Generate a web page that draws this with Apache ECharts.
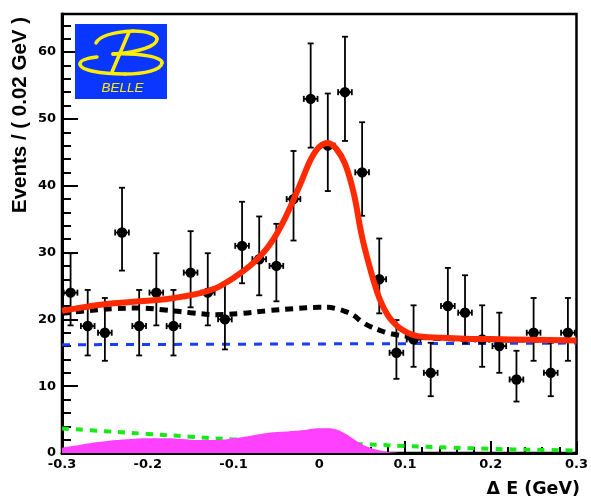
<!DOCTYPE html>
<html>
<head>
<meta charset="utf-8">
<script src="https://cdn.jsdelivr.net/npm/echarts@6/dist/echarts.min.js"></script>
<style>
  html, body { margin: 0; padding: 0; background: #ffffff; }
  #chart { width: 591px; height: 500px; }
</style>
</head>
<body>
<div id="chart"></div>
<script>
// ΔE distribution: data points with Poisson-style error bars and the fit components.

// Bin centres (GeV) and event counts
const binCenters = [-0.29, -0.27, -0.25, -0.23, -0.21, -0.19, -0.17, -0.15, -0.13, -0.11,
                    -0.09, -0.07, -0.05, -0.03, -0.01, 0.01, 0.03, 0.05, 0.07, 0.09,
                    0.11, 0.13, 0.15, 0.17, 0.19, 0.21, 0.23, 0.25, 0.27, 0.29];
const counts = [24, 19, 18, 33, 19, 24, 19, 27, 24, 20,
                31, 29, 28, 38, 53, 46, 54, 42, 26, 15,
                17, 12, 22, 21, 17, 16, 11, 18, 12, 18];
// Error bar ends (lower / upper)
const errLow = [19.1, 14.6, 13.8, 27.3, 14.6, 19.1, 14.6, 21.8, 19.1, 15.5,
                25.4, 23.6, 22.7, 31.8, 45.7, 39.2, 46.7, 35.5, 20.9, 11.1,
                12.9, 8.5, 17.3, 16.4, 12.9, 12.0, 7.7, 13.8, 8.5, 13.8];
const errHigh = [29.9, 24.4, 23.2, 39.7, 24.4, 29.9, 24.4, 33.2, 29.9, 25.5,
                 37.6, 35.4, 34.3, 45.2, 61.3, 53.8, 62.3, 49.5, 32.1, 19.9,
                 22.1, 16.5, 27.7, 26.6, 22.1, 21.0, 15.3, 23.2, 16.5, 23.2];
const binHalfWidth = 0.008;

// Total fit (red)
const fitX = [-0.30, -0.28, -0.26, -0.24, -0.22, -0.20, -0.18, -0.16, -0.14, -0.12,
              -0.11, -0.10, -0.09, -0.08, -0.07, -0.06, -0.05, -0.04, -0.03, -0.02,
              -0.01, 0.00, 0.01, 0.02, 0.03, 0.04, 0.05, 0.06, 0.07, 0.08,
              0.09, 0.10, 0.11, 0.12, 0.14, 0.17, 0.20, 0.25, 0.30];
const fitY = [21.3, 21.7, 22.1, 22.4, 22.6, 22.8, 23.0, 23.4, 23.9, 24.7,
              25.4, 26.2, 27.1, 28.1, 29.3, 30.8, 32.7, 35.1, 37.9, 40.9,
              43.9, 45.8, 46.4, 45.5, 43.3, 39.0, 32.3, 27.3, 23.2, 20.6,
              19.1, 18.2, 17.65, 17.4, 17.25, 17.1, 17.05, 16.95, 16.85];

// Total background (black dashed)
const bkgX = [-0.30, -0.27, -0.24, -0.21, -0.18, -0.15, -0.12, -0.09, -0.06, -0.03,
              0.00, 0.01, 0.02, 0.03, 0.04, 0.05, 0.06, 0.07, 0.08, 0.09,
              0.10, 0.12, 0.15, 0.20, 0.25, 0.30];
const bkgY = [20.9, 21.3, 21.6, 21.7, 21.4, 21.0, 20.7, 20.9, 21.3, 21.6,
              21.8, 21.8, 21.6, 21.2, 20.6, 19.6, 18.9, 18.4, 17.95, 17.7,
              17.5, 17.3, 17.1, 16.95, 16.9, 16.85];

// Continuum component (blue dashed)
const contX = [-0.30, 0.30];
const contY = [16.2, 16.45];

// Second background component (green dashed)
const bbX = [-0.30, -0.25, -0.20, -0.15, -0.10, -0.05, 0.00, 0.05, 0.10, 0.15, 0.20, 0.25, 0.30];
const bbY = [3.67, 3.26, 2.85, 2.44, 2.03, 1.78, 1.55, 1.32, 1.05, 0.83, 0.62, 0.48, 0.38];

// Peaking component (magenta filled)
const peakX = [-0.30, -0.28, -0.26, -0.24, -0.22, -0.20, -0.18, -0.16, -0.14, -0.12,
               -0.10, -0.08, -0.06, -0.04, -0.02, 0.00, 0.01, 0.02, 0.03, 0.04,
               0.05, 0.06, 0.07, 0.08, 0.09, 0.10, 0.20, 0.30];
const peakY = [0.8, 1.2, 1.6, 1.9, 2.1, 2.2, 2.2, 2.1, 1.95, 1.95,
               2.2, 2.6, 3.0, 3.2, 3.4, 3.7, 3.7, 3.5, 2.9, 2.1,
               1.3, 0.75, 0.4, 0.15, 0.05, 0, 0, 0];

// Axis ticks
const yMajorTicks = [0, 10, 20, 30, 40, 50, 60];
const yMinorTicks = [2, 4, 6, 8, 12, 14, 16, 18, 22, 24, 26, 28, 32, 34, 36, 38,
                     42, 44, 46, 48, 52, 54, 56, 58, 62, 64];
const yMax = 65.7;

const pairs = (xs, ys) => xs.map((x, i) => [x, ys[i]]);
const points = binCenters.map((x, i) => [x, counts[i], errLow[i], errHigh[i]]);

const chart = echarts.init(document.getElementById('chart'), null, { renderer: 'canvas' });

const labelFont = { fontFamily: 'DejaVu Sans', fontWeight: 'bold', fontSize: 13, color: '#000' };

function renderPoint(params, api) {
  const x = api.value(0), y = api.value(1), lo = api.value(2), hi = api.value(3);
  const c = api.coord([x, y]);
  const pLo = api.coord([x, lo]);
  const pHi = api.coord([x, hi]);
  const pL = api.coord([x - binHalfWidth, y]);
  const pR = api.coord([x + binHalfWidth, y]);
  const st = { stroke: '#000', lineWidth: 1.8 };
  const cap = 3;
  return {
    type: 'group',
    children: [
      { type: 'line', shape: { x1: c[0], y1: pLo[1], x2: c[0], y2: pHi[1] }, style: st },
      { type: 'line', shape: { x1: c[0] - cap, y1: pLo[1], x2: c[0] + cap, y2: pLo[1] }, style: st },
      { type: 'line', shape: { x1: c[0] - cap, y1: pHi[1], x2: c[0] + cap, y2: pHi[1] }, style: st },
      { type: 'line', shape: { x1: pL[0], y1: c[1], x2: pR[0], y2: c[1] }, style: st },
      { type: 'line', shape: { x1: pL[0], y1: c[1] - cap, x2: pL[0], y2: c[1] + cap }, style: st },
      { type: 'line', shape: { x1: pR[0], y1: c[1] - cap, x2: pR[0], y2: c[1] + cap }, style: st },
      { type: 'circle', shape: { cx: c[0], cy: c[1], r: 5.2 }, style: { fill: '#000' } }
    ]
  };
}

// Stylised "B" of the experiment logo, drawn as cubic strokes
const logoStroke = { fill: null, stroke: '#ffee00', lineWidth: 3.5, lineCap: 'round' };
const logoCurves = [
  [96, 43, 100, 35, 115, 32, 133, 31],
  [133, 31, 148, 31, 157, 35, 157, 39],
  [157, 39, 157, 46, 140, 52, 113, 54],
  [113, 54, 140, 53, 163, 57, 162, 63],
  [162, 63, 161, 70, 145, 74, 125, 74],
  [125, 74, 100, 74, 80, 70, 80, 64],
  [80, 64, 80, 60, 88, 58, 97, 57]
].map(s => ({
  type: 'bezierCurve', z: 21,
  shape: { x1: s[0], y1: s[1], cpx1: s[2], cpy1: s[3], cpx2: s[4], cpy2: s[5], x2: s[6], y2: s[7] },
  style: logoStroke
}));

const option = {
  animation: false,
  backgroundColor: '#ffffff',
  grid: {
    left: 62, right: 9, top: 14, bottom: 47,
    show: true, borderColor: '#000', borderWidth: 2.5, backgroundColor: '#ffffff'
  },
  xAxis: {
    type: 'value', min: -0.3, max: 0.3, interval: 0.1,
    axisLine: { show: true, onZero: false, lineStyle: { color: '#000', width: 3 } },
    axisTick: { show: true, inside: true, length: 12, lineStyle: { color: '#000', width: 2 } },
    minorTick: { show: true, splitNumber: 5, length: 6, lineStyle: { color: '#000', width: 2 } },
    splitLine: { show: false },
    axisLabel: Object.assign({ margin: 5, formatter: v => String(+v.toFixed(2)) }, labelFont)
  },
  yAxis: [
    {
      type: 'value', min: 0, max: yMax,
      axisLine: { show: true, onZero: false, lineStyle: { color: '#000', width: 3 } },
      axisTick: { show: true, inside: true, length: 16, customValues: yMajorTicks,
                  lineStyle: { color: '#000', width: 2 } },
      axisLabel: Object.assign({ margin: 6, customValues: yMajorTicks }, labelFont),
      splitLine: { show: false }
    },
    {
      type: 'value', min: 0, max: yMax, position: 'left',
      axisLine: { show: false, onZero: false },
      axisTick: { show: true, inside: true, length: 9, customValues: yMinorTicks,
                  lineStyle: { color: '#000', width: 2 } },
      axisLabel: { show: false },
      splitLine: { show: false }
    }
  ],
  series: [
    {
      name: 'peaking', type: 'line', data: pairs(peakX, peakY), smooth: 0.4,
      showSymbol: false, lineStyle: { width: 0 }, itemStyle: { color: '#ff40ff' },
      areaStyle: { color: '#ff40ff', opacity: 1 }, z: 1, silent: true
    },
    {
      name: 'bb', type: 'line', data: pairs(bbX, bbY), smooth: 0.4, showSymbol: false,
      lineStyle: { color: '#18e818', width: 4, type: [7, 7] }, z: 0, silent: true
    },
    {
      name: 'continuum', type: 'line', data: pairs(contX, contY), showSymbol: false,
      lineStyle: { color: '#1a3cff', width: 3, type: [8, 8] }, z: 2, silent: true
    },
    {
      name: 'background', type: 'line', data: pairs(bkgX, bkgY), smooth: 0.4, showSymbol: false,
      lineStyle: { color: '#000', width: 5, type: [8, 6] }, z: 3, silent: true
    },
    {
      name: 'data', type: 'custom', data: points, renderItem: renderPoint,
      encode: { x: 0, y: [1, 2, 3] }, z: 4, clip: true, silent: true
    },
    {
      name: 'fit', type: 'line', data: pairs(fitX, fitY), smooth: 0.4, showSymbol: false,
      lineStyle: { color: '#ff2a00', width: 6 }, z: 5, silent: true
    }
  ],
  graphic: [
    { type: 'rect', x: 75, y: 24, shape: { x: 0, y: 0, width: 92, height: 75 },
      style: { fill: '#0a37ff' }, z: 20 },
    ...logoCurves,
    { type: 'line', z: 21, shape: { x1: 129, y1: 32, x2: 112, y2: 72 }, style: logoStroke },
    { type: 'text', x: 122.5, y: 88, z: 21,
      style: { text: 'BELLE', fill: '#ffee00', font: 'italic 13.5px "Liberation Sans"',
               align: 'center', verticalAlign: 'middle' } },
    // Axis titles
    { type: 'text', x: 20, y: 115, rotation: Math.PI / 2, z: 20,
      style: { text: 'Events / ( 0.02 GeV )', fill: '#000',
               font: 'bold 20.5px "Liberation Sans"', align: 'center', verticalAlign: 'middle' } },
    { type: 'text', x: 580, y: 489, z: 20,
      style: { text: 'Δ E (GeV)', fill: '#000',
               font: 'bold 17.5px "DejaVu Sans"', align: 'right', verticalAlign: 'middle' } }
  ]
};

chart.setOption(option);
</script>
</body>
</html>
